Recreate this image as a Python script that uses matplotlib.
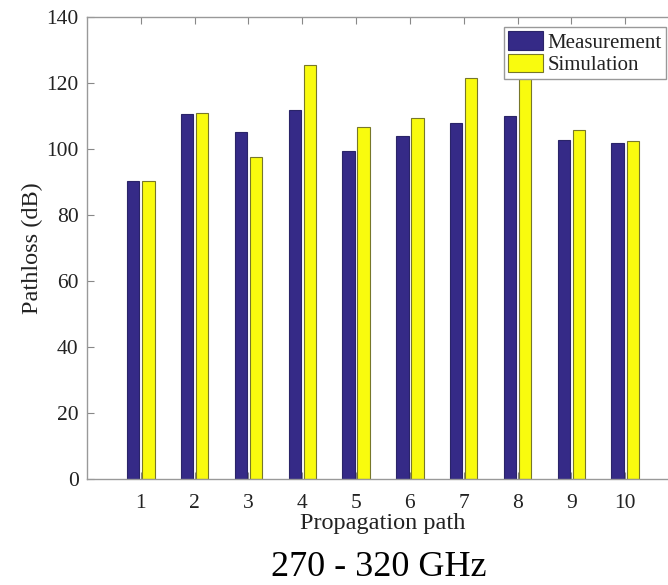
import matplotlib
matplotlib.use("Agg")
import matplotlib.pyplot as plt
import numpy as np

paths = [1, 2, 3, 4, 5, 6, 7, 8, 9, 10]
measurement = [90.4, 110.5, 105.1, 111.7, 99.3, 103.9, 107.9, 110.0, 102.7, 101.7]
simulation = [90.4, 111.0, 97.5, 125.4, 106.6, 109.3, 121.5, 123.0, 105.8, 102.4]
yticks = [0, 20, 40, 60, 80, 100, 120, 140]
series_names = ["Measurement", "Simulation"]
xlabel = "Propagation path"
ylabel = "Pathloss (dB)"
caption = "270 - 320 GHz"

plt.rcParams['font.family'] = ['Liberation Serif', 'DejaVu Serif']
text_color = '#222222'

fig = plt.figure(figsize=(6.68, 5.85), dpi=100)
ax = fig.add_axes([87/668, 1 - 479/585, 592/668, 462/585])

x = np.array(paths, dtype=float)
w = 0.23
off = 0.14
ax.bar(x - off, measurement, width=w, color='#352A87', edgecolor='#2a2468',
       linewidth=0.8, label=series_names[0], zorder=2)
ax.bar(x + off, simulation, width=w, color='#F9FB0E', edgecolor='#77772a',
       linewidth=0.8, label=series_names[1], zorder=2)

ax.set_xlim(0, 11)
ax.set_ylim(0, 140)
ax.set_xticks(paths)
ax.set_xticklabels([str(p) for p in paths])
ax.set_yticks(yticks)
ax.tick_params(axis='both', direction='in', length=5, color='#888888',
               labelsize=15.5, labelcolor=text_color, top=True, right=False)
ax.tick_params(axis='x', pad=11)
ax.tick_params(axis='y', pad=6)
for s in ax.spines.values():
    s.set_color('#999999')
    s.set_linewidth(1.0)

ax.set_xlabel(xlabel, fontsize=17.5, color=text_color, labelpad=0)
ax.set_ylabel(ylabel, fontsize=17.5, color=text_color, labelpad=2)

leg = ax.legend(loc='upper right', bbox_to_anchor=((666-87)/592, 1 - 10/462),
                fontsize=15, frameon=True, fancybox=False, framealpha=1,
                edgecolor='#999999', handlelength=1.7, handleheight=1.0,
                handletextpad=0.2, borderpad=0.2, labelspacing=0.05,
                borderaxespad=0)
leg.get_frame().set_linewidth(1.0)
leg.set_zorder(5)
for t in leg.get_texts():
    t.set_color(text_color)

fig.text(379/668, 1 - 568/585, caption, fontsize=26, color='black',
         ha='center', va='center')

fig.savefig("out.png", dpi=100)
